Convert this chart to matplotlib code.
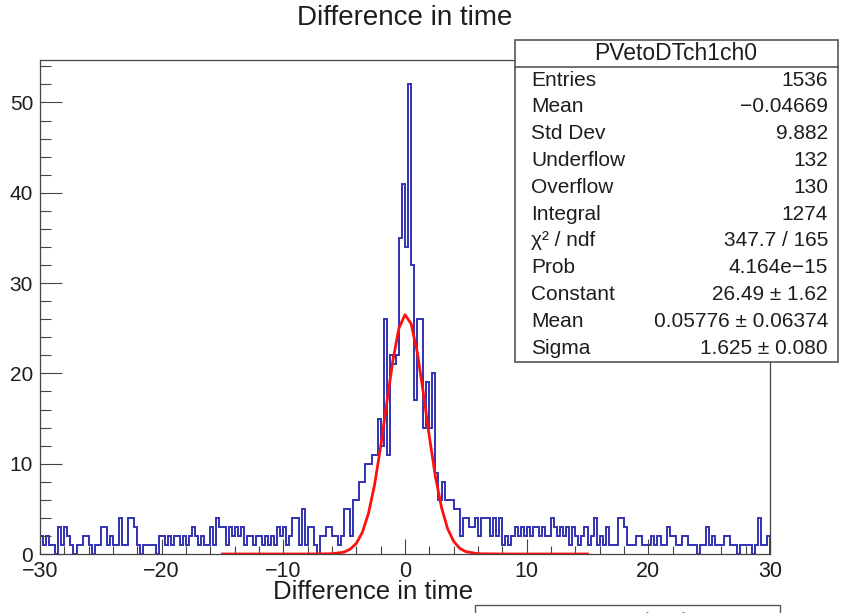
import numpy as np
import matplotlib
matplotlib.use('Agg')
import matplotlib.pyplot as plt
from matplotlib.patches import Rectangle

plt.rcParams['font.family'] = ['Liberation Sans', 'DejaVu Sans']

# histogram: 240 bins of 0.25 from -30 to 30 (counts)
x_min, x_max = -30.0, 30.0
counts = [
    2, 1, 2, 1, 1, 0, 3, 1, 3, 2, 1, 0, 1, 1, 2, 2, 1, 0, 1, 1,          # -30 .. -25
    3, 3, 1, 2, 1, 1, 4, 1, 1, 4, 4, 3, 1, 0, 1, 1, 1, 1, 0, 2,          # -25 .. -20
    2, 1, 2, 1, 2, 2, 1, 2, 1, 2, 3, 2, 1, 2, 1, 1, 3, 1, 4, 3,          # -20 .. -15
    3, 1, 3, 2, 3, 2, 3, 1, 2, 2, 1, 2, 2, 1, 2, 1, 2, 1, 3, 2,          # -15 .. -10
    3, 1, 2, 4, 4, 1, 5, 1, 3, 3, 1, 0, 2, 2, 3, 3, 2, 2, 1, 2,          # -10 .. -5
    5, 5, 2, 6, 6, 8, 8, 10, 10, 11, 11, 15, 12, 26, 11, 22, 21, 22, 35, 41,  # -5 .. 0
    34, 52, 32, 17, 26, 26, 14, 19, 14, 20, 9, 6, 8, 6, 6, 6, 5, 5, 2, 4,    # 0 .. 5
    4, 3, 3, 4, 2, 4, 4, 4, 2, 4, 2, 4, 1, 2, 1, 2, 3, 2, 3, 2,          # 5 .. 10
    3, 2, 3, 3, 2, 3, 2, 2, 4, 3, 2, 3, 2, 3, 1, 3, 2, 1, 2, 3,          # 10 .. 15
    1, 2, 4, 1, 2, 1, 3, 1, 1, 1, 4, 4, 3, 1, 1, 1, 2, 2, 1, 1,          # 15 .. 20
    1, 2, 1, 2, 1, 1, 3, 2, 2, 1, 1, 2, 2, 1, 1, 1, 0, 1, 1, 3,          # 20 .. 25
    1, 2, 1, 1, 1, 2, 2, 1, 1, 0, 1, 1, 1, 1, 0, 1, 4, 1, 1, 2,          # 25 .. 30
]

fit_x = [-15, -8, -6, -5, -4.5, -4, -3.5, -3, -2.5, -2, -1.5, -1, -0.5, 0,
         0.5, 1, 1.5, 2, 2.5, 3, 3.5, 4, 4.5, 5, 6, 8, 15]
fit_y = [0, 0, 0.03, 0.21, 0.55, 1.17, 2.41, 4.51, 7.67, 11.9, 16.7, 21.4, 25.0, 26.5,
         25.5, 22.4, 17.9, 13.0, 8.57, 5.15, 2.81, 1.40, 0.62, 0.26, 0.03, 0, 0]

title = 'Difference in time'
stats_name = 'PVetoDTch1ch0'
stats_labels = ['Entries', 'Mean', 'Std Dev', 'Underflow', 'Overflow', 'Integral',
                '\u03c7\u00b2 / ndf', 'Prob', 'Constant', 'Mean', 'Sigma']
stats_values = ['1536', '\u22120.04669', '9.882', '132', '130', '1274',
                '347.7 / 165', '4.164e\u221215', '26.49 \u00b1 1.62',
                '0.05776 \u00b1 0.06374', '1.625 \u00b1 0.080']

W, H = 849, 613
txt = '#1e1e1e'


def fx(px):
    return px / W


def fy(py):
    return 1 - py / H


fig = plt.figure(figsize=(W / 100, H / 100), dpi=100)
ax = fig.add_axes([fx(40), fy(554), fx(770) - fx(40), fy(60) - fy(554)])

edges = np.linspace(x_min, x_max, len(counts) + 1)
ax.stairs(counts, edges, color='#3232b4', lw=1.4)
ax.plot(fit_x, fit_y, color='#ff1010', lw=2.0)

ax.set_xlim(x_min, x_max)
ax.set_ylim(0, 54.7)
ax.xaxis.set_major_locator(matplotlib.ticker.MultipleLocator(10))
ax.xaxis.set_minor_locator(matplotlib.ticker.MultipleLocator(2))
ax.yaxis.set_major_locator(matplotlib.ticker.MultipleLocator(10))
ax.yaxis.set_minor_locator(matplotlib.ticker.MultipleLocator(2))
ax.tick_params(axis='x', which='major', direction='in', length=11, width=0.8,
               labelsize=15.5, pad=5, colors='#444444', labelcolor=txt)
ax.tick_params(axis='x', which='minor', direction='in', length=5.5, width=0.8, colors='#444444')
ax.tick_params(axis='y', which='major', direction='in', length=16, width=0.8,
               labelsize=15, pad=5, colors='#444444', labelcolor=txt)
ax.tick_params(axis='y', which='minor', direction='in', length=8, width=0.8, colors='#444444')
for s in ax.spines.values():
    s.set_color('#444444')
    s.set_linewidth(0.9)

fig.text(fx(405), fy(18), title, ha='center', va='center', fontsize=20, color=txt)
fig.text(fx(373), fy(592), 'Difference in time', ha='center', va='center',
         fontsize=18.5, color=txt)

# stats box
box = Rectangle((fx(515), fy(362)), fx(838) - fx(515), fy(40) - fy(362),
                transform=fig.transFigure, facecolor='white', edgecolor='#555555',
                lw=1.2, zorder=5)
fig.patches.append(box)
fig.add_artist(matplotlib.lines.Line2D([fx(515), fx(838)], [fy(67), fy(67)],
                                       color='#555555', lw=1.2, zorder=6))
fig.text(fx(676), fy(53), stats_name, ha='center', va='center', fontsize=16.5,
         color=txt, zorder=7)
for i, (lab, val) in enumerate(zip(stats_labels, stats_values)):
    yy = fy(80 + i * 26.8)
    fig.text(fx(531), yy, lab, ha='left', va='center', fontsize=15, color=txt, zorder=7)
    fig.text(fx(828), yy, val, ha='right', va='center', fontsize=15, color=txt, zorder=7)

# second stats box, cut off at the bottom edge
box2 = Rectangle((fx(475), fy(640)), fx(780) - fx(475), fy(605) - fy(640),
                 transform=fig.transFigure, facecolor='white', edgecolor='#555555',
                 lw=1.0, zorder=5)
fig.patches.append(box2)
fig.text(fx(627), fy(622), 'PVetoDTch1ch1', ha='center', va='center', fontsize=16,
         color='#777777', zorder=7)

fig.savefig('out.png', dpi=100)
